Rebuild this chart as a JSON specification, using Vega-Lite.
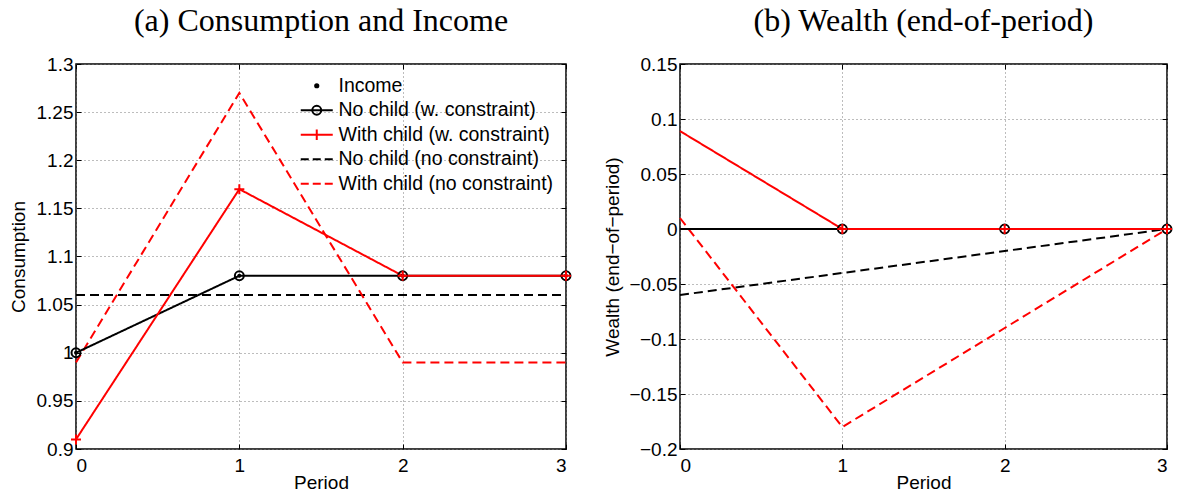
{
  "$schema": "https://vega.github.io/schema/vega-lite/v6.json",
  "background": "white",
  "padding": {"left": 8, "top": 4, "right": 0, "bottom": 0},
  "spacing": 27,
  "resolve": {
    "scale": {"color": "independent", "strokeDash": "independent", "stroke": "independent", "fill": "independent", "shape": "independent"},
    "legend": {"color": "independent", "strokeDash": "independent", "stroke": "independent", "fill": "independent", "shape": "independent"}
  },
  "config": {
    "view": {"stroke": "black", "strokeWidth": 1.5},
    "axis": {
      "labelFont": "Liberation Sans", "labelFontSize": 19, "labelColor": "black",
      "titleFont": "Liberation Sans", "titleFontSize": 19, "titleFontWeight": "normal", "titleColor": "black",
      "domain": false,
      "grid": true, "gridColor": "#7a7a7a", "gridDash": [1, 3], "gridWidth": 1,
      "ticks": true, "tickColor": "black", "tickSize": -5, "tickWidth": 1,
      "labelPadding": 8
    },
    "axisX": {"labelPadding": 12, "titlePadding": -2},
    "title": {"font": "Liberation Serif", "fontSize": 32, "fontWeight": "normal", "color": "black", "anchor": "middle", "frame": "group", "offset": 17},
    "legend": {
      "orient": "top-right", "offset": 12, "padding": 0,
      "symbolSize": 256, "symbolStrokeWidth": 2, "symbolOpacity": 1,
      "symbolFillColor": "transparent", "symbolStrokeColor": "black",
      "labelFont": "Liberation Sans", "labelFontSize": 19.5, "labelColor": "black",
      "labelOffset": 20, "rowPadding": 3.5, "labelLimit": 400
    }
  },
  "datasets": {
    "cons": [
      {"series": "No child (no constraint)", "period": 0, "value": 1.06},
      {"series": "No child (no constraint)", "period": 1, "value": 1.06},
      {"series": "No child (no constraint)", "period": 2, "value": 1.06},
      {"series": "No child (no constraint)", "period": 3, "value": 1.06},
      {"series": "With child (no constraint)", "period": 0, "value": 0.99},
      {"series": "With child (no constraint)", "period": 1, "value": 1.27},
      {"series": "With child (no constraint)", "period": 2, "value": 0.99},
      {"series": "With child (no constraint)", "period": 3, "value": 0.99},
      {"series": "No child (w. constraint)", "period": 0, "value": 1.0},
      {"series": "No child (w. constraint)", "period": 1, "value": 1.08},
      {"series": "No child (w. constraint)", "period": 2, "value": 1.08},
      {"series": "No child (w. constraint)", "period": 3, "value": 1.08},
      {"series": "With child (w. constraint)", "period": 0, "value": 0.91},
      {"series": "With child (w. constraint)", "period": 1, "value": 1.17},
      {"series": "With child (w. constraint)", "period": 2, "value": 1.08},
      {"series": "With child (w. constraint)", "period": 3, "value": 1.08},
      {"series": "Income", "period": 0, "value": 1.0},
      {"series": "Income", "period": 1, "value": 1.08},
      {"series": "Income", "period": 2, "value": 1.08},
      {"series": "Income", "period": 3, "value": 1.08}
    ],
    "wealth": [
      {"series": "No child (no constraint)", "period": 0, "value": -0.06},
      {"series": "No child (no constraint)", "period": 1, "value": -0.04},
      {"series": "No child (no constraint)", "period": 2, "value": -0.02},
      {"series": "No child (no constraint)", "period": 3, "value": 0},
      {"series": "With child (no constraint)", "period": 0, "value": 0.01},
      {"series": "With child (no constraint)", "period": 1, "value": -0.18},
      {"series": "With child (no constraint)", "period": 2, "value": -0.09},
      {"series": "With child (no constraint)", "period": 3, "value": 0},
      {"series": "No child (w. constraint)", "period": 0, "value": 0},
      {"series": "No child (w. constraint)", "period": 1, "value": 0},
      {"series": "No child (w. constraint)", "period": 2, "value": 0},
      {"series": "No child (w. constraint)", "period": 3, "value": 0},
      {"series": "With child (w. constraint)", "period": 0, "value": 0.089},
      {"series": "With child (w. constraint)", "period": 1, "value": 0},
      {"series": "With child (w. constraint)", "period": 2, "value": 0},
      {"series": "With child (w. constraint)", "period": 3, "value": 0}
    ]
  },
  "hconcat": [
    {
      "width": 490, "height": 385,
      "title": "(a) Consumption and Income",
      "data": {"name": "cons"},
      "resolve": {"axis": {"x": "independent", "y": "independent"}},
      "encoding": {
        "x": {"field": "period", "type": "quantitative", "scale": {"domain": [0, 3], "nice": false},
              "axis": {"values": [0, 1, 2, 3], "format": "d", "title": "Period"}},
        "y": {"field": "value", "type": "quantitative", "scale": {"domain": [0.9, 1.3], "nice": false, "zero": false},
              "axis": {"values": [0.9, 0.95, 1, 1.05, 1.1, 1.15, 1.2, 1.25, 1.3], "format": "~g", "title": "Consumption", "titlePadding": 8}}
      },
      "layer": [
        {
          "transform": [{"filter": "datum.series !== 'Income'"}],
          "mark": {"type": "line", "strokeWidth": 2},
          "encoding": {
            "color": {"field": "series", "type": "nominal",
              "scale": {"domain": ["No child (no constraint)", "With child (no constraint)", "No child (w. constraint)", "With child (w. constraint)"], "range": ["black", "red", "black", "red"]}, "legend": null},
            "strokeDash": {"field": "series", "type": "nominal",
              "scale": {"domain": ["No child (no constraint)", "With child (no constraint)", "No child (w. constraint)", "With child (w. constraint)"], "range": [[9, 5], [9, 5], [1, 0], [1, 0]]}, "legend": null}
          }
        },
        {
          "transform": [{"filter": "datum.series === 'No child (w. constraint)'"}],
          "mark": {"type": "point", "shape": "circle", "size": 80, "strokeWidth": 2, "color": "black", "filled": false, "opacity": 1},
          "encoding": {
            "x": {"field": "period", "type": "quantitative", "axis": {"orient": "top", "values": [0, 1, 2, 3], "labels": false, "title": null, "grid": false}},
            "y": {"field": "value", "type": "quantitative", "axis": {"orient": "right", "values": [0.9, 0.95, 1, 1.05, 1.1, 1.15, 1.2, 1.25, 1.3], "labels": false, "title": null, "grid": false}}
          }
        },
        {
          "transform": [{"filter": "datum.series === 'Income'"}],
          "mark": {"type": "point", "shape": "circle", "size": 16, "color": "black", "filled": true, "opacity": 1},
          "encoding": {"x": {"field": "period", "type": "quantitative", "axis": null}, "y": {"field": "value", "type": "quantitative", "axis": null}}
        },
        {
          "transform": [{"filter": "datum.series === 'With child (w. constraint)'"}],
          "mark": {"type": "point", "shape": "M-1,0H1M0,-1V1", "size": 100, "strokeWidth": 2, "color": "red", "filled": false, "opacity": 1},
          "encoding": {"x": {"field": "period", "type": "quantitative", "axis": null}, "y": {"field": "value", "type": "quantitative", "axis": null}}
        },
        {
          "mark": {"type": "point", "opacity": 0, "strokeWidth": 2},
          "encoding": {
            "x": {"field": "period", "type": "quantitative", "axis": null},
            "y": {"field": "value", "type": "quantitative", "axis": null},
            "stroke": {"field": "series", "type": "nominal", "title": null,
              "scale": {"domain": ["Income", "No child (w. constraint)", "With child (w. constraint)", "No child (no constraint)", "With child (no constraint)"], "range": ["black", "black", "red", "black", "red"]}},
            "fill": {"field": "series", "type": "nominal", "title": null,
              "scale": {"domain": ["Income", "No child (w. constraint)", "With child (w. constraint)", "No child (no constraint)", "With child (no constraint)"], "range": ["black", "transparent", "transparent", "transparent", "transparent"]}},
            "shape": {"field": "series", "type": "nominal", "title": null,
              "scale": {"domain": ["Income", "No child (w. constraint)", "With child (w. constraint)", "No child (no constraint)", "With child (no constraint)"],
                "range": [
                  "M1.2,0A0.2,0.2 0 1,1 0.8,0A0.2,0.2 0 1,1 1.2,0Z",
                  "M-1,0H3M1.56,0A0.56,0.56 0 1,1 0.44,0A0.56,0.56 0 1,1 1.56,0",
                  "M-1,0H3M1,-0.65V0.65",
                  "M-1,0H0M0.5,0H1.5M2,0H3",
                  "M-1,0H0M0.5,0H1.5M2,0H3"
                ]}}
          }
        }
      ]
    },
    {
      "width": 487, "height": 385,
      "title": "(b) Wealth (end-of-period)",
      "data": {"name": "wealth"},
      "resolve": {"axis": {"x": "independent", "y": "independent"}},
      "encoding": {
        "x": {"field": "period", "type": "quantitative", "scale": {"domain": [0, 3], "nice": false},
              "axis": {"values": [0, 1, 2, 3], "format": "d", "title": "Period"}},
        "y": {"field": "value", "type": "quantitative", "scale": {"domain": [-0.2, 0.15], "nice": false, "zero": false},
              "axis": {"values": [-0.2, -0.15, -0.1, -0.05, 0, 0.05, 0.1, 0.15], "format": "~g", "title": "Wealth (end−of−period)", "titlePadding": 6}}
      },
      "layer": [
        {
          "mark": {"type": "line", "strokeWidth": 2},
          "encoding": {
            "color": {"field": "series", "type": "nominal",
              "scale": {"domain": ["No child (no constraint)", "With child (no constraint)", "No child (w. constraint)", "With child (w. constraint)"], "range": ["black", "red", "black", "red"]}, "legend": null},
            "strokeDash": {"field": "series", "type": "nominal",
              "scale": {"domain": ["No child (no constraint)", "With child (no constraint)", "No child (w. constraint)", "With child (w. constraint)"], "range": [[9, 5], [9, 5], [1, 0], [1, 0]]}, "legend": null}
          }
        },
        {
          "transform": [{"filter": "datum.series === 'No child (w. constraint)' && datum.period > 0"}],
          "mark": {"type": "point", "shape": "circle", "size": 80, "strokeWidth": 2, "color": "black", "filled": false, "opacity": 1},
          "encoding": {
            "x": {"field": "period", "type": "quantitative", "axis": {"orient": "top", "values": [0, 1, 2, 3], "labels": false, "title": null, "grid": false}},
            "y": {"field": "value", "type": "quantitative", "axis": {"orient": "right", "values": [-0.2, -0.15, -0.1, -0.05, 0, 0.05, 0.1, 0.15], "labels": false, "title": null, "grid": false}}
          }
        },
        {
          "transform": [{"filter": "datum.series === 'With child (w. constraint)' && datum.period > 0"}],
          "mark": {"type": "point", "shape": "M-1,0H1M0,-1V1", "size": 100, "strokeWidth": 2, "color": "red", "filled": false, "opacity": 1},
          "encoding": {"x": {"field": "period", "type": "quantitative", "axis": null}, "y": {"field": "value", "type": "quantitative", "axis": null}}
        }
      ]
    }
  ]
}
